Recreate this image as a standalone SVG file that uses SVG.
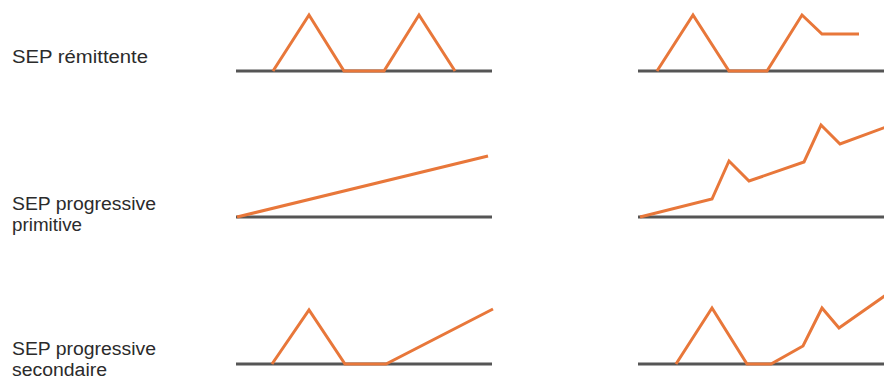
<svg xmlns="http://www.w3.org/2000/svg" width="884" height="382" viewBox="0 0 884 382">
<style>
.lbl{font-family:"Liberation Sans",Arial,sans-serif;font-size:18px;fill:#2b2b2b}
.axis{stroke:#555;stroke-width:3;fill:none}
.curve{stroke:#E8773A;stroke-width:3;fill:none;stroke-linejoin:miter;stroke-linecap:butt}
</style>
<rect width="884" height="382" fill="#fff"/>
<g id="label-remittente"><text class="lbl" x="12" y="63" textLength="136" lengthAdjust="spacingAndGlyphs">SEP rémittente</text></g>
<g id="label-primitive"><text class="lbl"><tspan x="12" y="210" textLength="144" lengthAdjust="spacingAndGlyphs">SEP progressive</tspan><tspan x="12" y="231" textLength="70" lengthAdjust="spacingAndGlyphs">primitive</tspan></text></g>
<g id="label-secondaire"><text class="lbl"><tspan x="12" y="355" textLength="144" lengthAdjust="spacingAndGlyphs">SEP progressive</tspan><tspan x="12" y="376" textLength="95" lengthAdjust="spacingAndGlyphs">secondaire</tspan></text></g>
<g id="chart-remittente-a"><line class="axis" x1="236" y1="71" x2="492" y2="71"/><polyline class="curve" points="273,71 309,15 344,71 384,71 419,15 455,71"/></g>
<g id="chart-remittente-b"><line class="axis" x1="638" y1="71" x2="884" y2="71"/><polyline class="curve" points="657,71 693,15 729,71 767,71 802,15 822,34 859,34"/></g>
<g id="chart-primitive-a"><line class="axis" x1="236" y1="217" x2="492" y2="217"/><polyline class="curve" points="237,217 488,156"/></g>
<g id="chart-primitive-b"><line class="axis" x1="638" y1="217" x2="884" y2="217"/><polyline class="curve" points="640,217 712,199 729,161 749,181 804,162 821,125 840,144 886,127"/></g>
<g id="chart-secondaire-a"><line class="axis" x1="236" y1="364" x2="492" y2="364"/><polyline class="curve" points="272,364 309,310 345,364 386,364 493,309"/></g>
<g id="chart-secondaire-b"><line class="axis" x1="638" y1="364" x2="884" y2="364"/><polyline class="curve" points="676,364 712,308 747,364 771,364 803,346 822,308 839,328 886,295"/></g>
</svg>
